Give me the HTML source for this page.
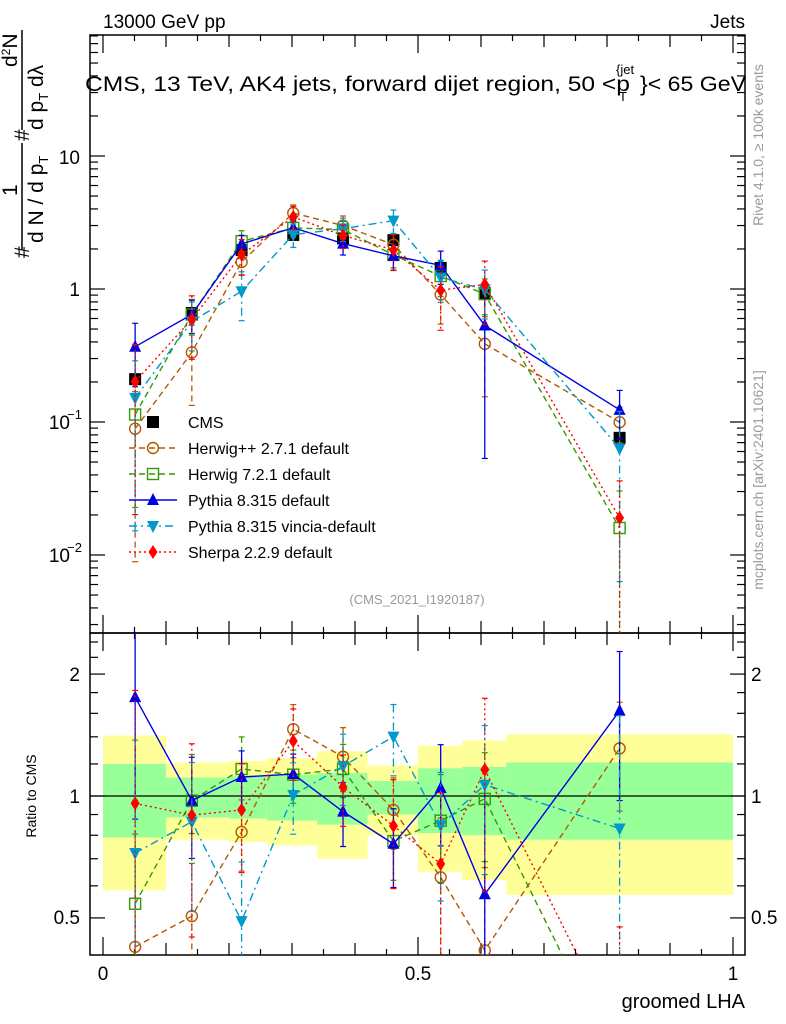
<!DOCTYPE html>
<html><head><meta charset="utf-8"><style>
html,body{margin:0;background:#fff;width:786px;height:1024px;overflow:hidden}
svg{display:block;font-family:"Liberation Sans",sans-serif}
</style></head><body>
<svg id="c" width="786" height="1024" viewBox="0 0 786 1024" style="position:absolute;left:0;top:0"></svg>
<script>
const xs = [0.051,0.141,0.22,0.302,0.381,0.461,0.536,0.606,0.82];
const binEdges = [0,0.1,0.2,0.26,0.34,0.42,0.5,0.57,0.64,1.0];
const cms = [0.21,0.66,1.96,2.55,2.4,2.33,1.44,0.93,0.076];
const yellowHi = [1.41,1.21,1.22,1.24,1.29,1.19,1.33,1.37,1.42];
const greenHi = [1.20,1.11,1.12,1.13,1.14,1.09,1.17,1.18,1.21];
const greenLo = [0.79,0.885,0.88,0.87,0.85,0.90,0.81,0.80,0.78];
const yellowLo = [0.585,0.78,0.77,0.755,0.70,0.80,0.65,0.62,0.57];
const ratioHerwigpp = [0.424,0.505,0.815,1.462,1.25,0.924,0.63,0.416,1.311];
const ratioHerwig7 = [0.542,0.974,1.166,1.129,1.166,0.774,0.869,0.984,0.21];
const ratioPythia = [1.754,0.974,1.114,1.133,0.915,0.762,1.046,0.572,1.624];
const ratioVincia = [0.723,0.864,0.491,1.006,1.184,1.402,0.847,1.066,0.831];
const ratioSherpa = [0.959,0.897,0.924,1.367,1.052,0.844,0.68,1.162,0.25];
const errHerwigpp = [0.9,0.6,0.2,0.15,0.18,0.2,0.4,0.6,0.3];
const errHerwig7 = [0.8,0.3,0.2,0.15,0.15,0.2,0.3,0.3,0.9];
const errPythia = [0.5,0.28,0.16,0.12,0.18,0.22,0.28,0.9,0.4];
const errVincia = [0.9,0.4,0.4,0.2,0.2,0.2,0.35,0.4,0.9];
const errSherpa = [0.9,0.5,0.3,0.2,0.2,0.3,0.5,0.5,0.9];

const NS="http://www.w3.org/2000/svg";
const svg=document.getElementById('c');
function mk(tag,attrs,parent){const e=document.createElementNS(NS,tag);for(const k in attrs)e.setAttribute(k,attrs[k]);(parent||svg).appendChild(e);return e;}
const L=90,R=745,T=35,MB=633,RB=955;
const X=v=>103+630*v;
const Ym=v=>289-133*Math.log10(v);
const Yr=v=>796-405*Math.log10(v);

const defs=mk('defs',{});
const c1=mk('clipPath',{id:'cm'},defs);mk('rect',{x:L,y:T,width:R-L,height:MB-T},c1);
const c2=mk('clipPath',{id:'cr'},defs);mk('rect',{x:L,y:MB,width:R-L,height:RB-MB},c2);

const gBand=mk('g',{'clip-path':'url(#cr)'});

for(let i=0;i<xs.length;i++){
 const x0=X(binEdges[i]),x1=X(binEdges[i+1]);
 const y=mk('rect',{x:x0,y:Yr(yellowHi[i]),width:x1-x0,height:Yr(yellowLo[i])-Yr(yellowHi[i]),fill:'#ffff99'},gBand);
 
 const g=mk('rect',{x:x0,y:Yr(greenHi[i]),width:x1-x0,height:Yr(greenLo[i])-Yr(greenHi[i]),fill:'#99ff99'},gBand);
 
}
mk('line',{x1:L,x2:R,y1:Yr(1),y2:Yr(1),stroke:'#000','stroke-width':1.3});

mk('rect',{x:L,y:T,width:R-L,height:MB-T,fill:'none',stroke:'#000','stroke-width':1.5});
mk('rect',{x:L,y:MB,width:R-L,height:RB-MB,fill:'none',stroke:'#000','stroke-width':1.5});

const tk=mk('g',{stroke:'#000','stroke-width':1.2});
for(let d=-3;d<=1;d++){for(let m=1;m<10;m++){const v=m*Math.pow(10,d);const y=Ym(v);if(y<T||y>MB)continue;const len=m==1?15:8;
 mk('line',{x1:L,x2:L+len,y1:y,y2:y},tk);mk('line',{x1:R,x2:R-len,y1:y,y2:y},tk);}}
[0.5,0.6,0.7,0.8,0.9,1,1.2,1.4,1.6,1.8,2,2.2,2.4].forEach(v=>{const y=Yr(v);const len=(v==0.5||v==1||v==2)?15:8;
 mk('line',{x1:L,x2:L+len,y1:y,y2:y},tk);mk('line',{x1:R,x2:R-len,y1:y,y2:y},tk);});
for(let k=0;k<=20;k++){const v=k*0.05;const x=X(v);const len=(k%10==0)?18:(k%2==0?12:6);
 [MB,RB].forEach(b=>mk('line',{x1:x,x2:x,y1:b,y2:b-len},tk));
 mk('line',{x1:x,x2:x,y1:T,y2:T+len},tk);mk('line',{x1:x,x2:x,y1:MB,y2:MB+len},tk);}

const series=[
 {name:'herwigpp',ratio:ratioHerwigpp,err:errHerwigpp,color:'#b35900',dash:'6,4',marker:'circle'},
 {name:'herwig7',ratio:ratioHerwig7,err:errHerwig7,color:'#339900',dash:'6,4',marker:'square'},
 {name:'pythia',ratio:ratioPythia,err:errPythia,color:'#0000e6',dash:'',marker:'tri-up'},
 {name:'vincia',ratio:ratioVincia,err:errVincia,color:'#0099cc',dash:'8,4,2,4',marker:'tri-down'},
 {name:'sherpa',ratio:ratioSherpa,err:errSherpa,color:'#ff0000',dash:'2,3',marker:'diamond'}
];
function marker(g,type,x,y,col){
 let e;
 if(type=='circle')e=mk('circle',{cx:x,cy:y,r:5.5,fill:'none',stroke:col,'stroke-width':1.4},g);
 else if(type=='square')e=mk('rect',{x:x-5.5,y:y-5.5,width:11,height:11,fill:'none',stroke:col,'stroke-width':1.4},g);
 else if(type=='tri-up')e=mk('polygon',{points:`${x},${y-7} ${x-6},${y+5} ${x+6},${y+5}`,fill:col},g);
 else if(type=='tri-down')e=mk('polygon',{points:`${x},${y+7} ${x-6},${y-5} ${x+6},${y-5}`,fill:col},g);
 else if(type=='diamond')e=mk('polygon',{points:`${x},${y-7} ${x-4.5},${y} ${x},${y+7} ${x+4.5},${y}`,fill:col},g);
 else e=mk('rect',{x:x-6,y:y-6,width:12,height:12,fill:col},g);
 return e;
}
function drawPanel(clip,Yf,valsFn,pre){
 series.forEach(s=>{
  const g=mk('g',{'clip-path':`url(#${clip})`});
  
  
  const vals=valsFn(s);
  const pts=vals.map((v,i)=>X(xs[i])+','+Yf(v)).join(' ');
  const pl=mk('polyline',{points:pts,fill:'none',stroke:s.color,'stroke-width':1.4,'stroke-dasharray':s.dash},g);
  
  vals.forEach((v,i)=>{
   const x=X(xs[i]);
   const hi=Yf(v*(1+s.err[i])),lo=Yf(Math.max(v*(1-s.err[i]),1e-4));
   const eb=mk('line',{x1:x,x2:x,y1:hi,y2:lo,stroke:s.color,'stroke-width':1.3,'stroke-dasharray':s.dash},g);
   
   mk('line',{x1:x-3,x2:x+3,y1:hi,y2:hi,stroke:s.color,'stroke-width':1.2},g);
   mk('line',{x1:x-3,x2:x+3,y1:lo,y2:lo,stroke:s.color,'stroke-width':1.2},g);
   const m=marker(g,s.marker,x,Yf(v),s.color);
   
   
  });
 });
}
const gc=mk('g',{'clip-path':'url(#cm)'});

cms.forEach((v,i)=>{const m=marker(gc,'sq-filled',X(xs[i]),Ym(v),'#000');
 });
drawPanel('cm',Ym,s=>s.ratio.map((r,i)=>r*cms[i]),'main');
drawPanel('cr',Yr,s=>s.ratio,'ratio');

const legend=[['CMS',null],['Herwig++ 2.7.1 default',0],['Herwig 7.2.1 default',1],['Pythia 8.315 default',2],['Pythia 8.315 vincia-default',3],['Sherpa 2.2.9 default',4]];
const lg=mk('g',{});
legend.forEach((e,k)=>{
 const y=422+26*k;
 const ge=mk('g',{},lg);
 if(e[1]===null){marker(ge,'sq-filled',153,y,'#000');}
 else{const s=series[e[1]];
  mk('line',{x1:129,x2:177,y1:y,y2:y,stroke:s.color,'stroke-width':1.4,'stroke-dasharray':s.dash},ge);
  marker(ge,s.marker,153,y,s.color);}
 const t=mk('text',{x:188,y:y+6,'font-size':16,fill:'#000'},ge);t.textContent=e[0];
});
</script>
<svg width="786" height="1024" style="position:absolute;left:0;top:0;font-family:'Liberation Sans',sans-serif">
<text x="103" y="28" font-size="19">13000 GeV pp</text>
<text x="745" y="28" font-size="19" text-anchor="end">Jets</text>
<g>
<text x="85" y="91" font-size="21" textLength="545" lengthAdjust="spacingAndGlyphs">CMS, 13 TeV, AK4 jets, forward dijet region, 50 &lt;p</text>
<text x="619" y="101" font-size="13">T</text>
<text x="616" y="74" font-size="13">{jet</text>
<text x="640" y="91" font-size="21" textLength="106" lengthAdjust="spacingAndGlyphs">}&lt; 65 GeV</text>
</g>
<g font-size="21">
<line x1="22" y1="143" x2="22" y2="250" stroke="#000" stroke-width="1.5"/>
<line x1="22" y1="30" x2="22" y2="130" stroke="#000" stroke-width="1.5"/>
<text transform="translate(29,258) rotate(-90)">#</text>
<text transform="translate(17,196) rotate(-90)">1</text>
<text transform="translate(43,243) rotate(-90)">d N / d p<tspan font-size="13" dy="5">T</tspan></text>
<text transform="translate(29,141) rotate(-90)">#</text>
<text transform="translate(17,67) rotate(-90)">d<tspan font-size="12" dy="-7">2</tspan><tspan dy="7">N</tspan></text>
<text transform="translate(43,130) rotate(-90)">d p<tspan font-size="13" dy="5">T</tspan><tspan dy="-5"> d</tspan>λ</text>
</g>
<g font-size="19" text-anchor="end">
<text x="80" y="164">10</text><text x="80" y="296">1</text>
<text x="70" y="429">10</text><text x="82" y="419" font-size="13">−1</text>
<text x="70" y="562">10</text><text x="82" y="552" font-size="13">−2</text>
<text x="80" y="681">2</text><text x="80" y="803">1</text><text x="80" y="924">0.5</text>
</g>
<g font-size="19">
<text x="751" y="681">2</text><text x="751" y="803">1</text><text x="751" y="924">0.5</text>
</g>
<g font-size="19" text-anchor="middle">
<text x="103" y="980">0</text><text x="418" y="980">0.5</text><text x="733" y="980">1</text>
</g>
<text x="745" y="1008" font-size="20" text-anchor="end">groomed LHA</text>
<text transform="translate(36,796) rotate(-90)" font-size="14" text-anchor="middle">Ratio to CMS</text>
<text x="417" y="604" font-size="13" fill="#999" text-anchor="middle">(CMS_2021_I1920187)</text>
<text transform="translate(763,145) rotate(-90)" font-size="14" fill="#999" text-anchor="middle">Rivet 4.1.0, ≥ 100k events</text>
<text transform="translate(763,480) rotate(-90)" font-size="14" fill="#999" text-anchor="middle">mcplots.cern.ch [arXiv:2401.10621]</text>
</svg>
</body></html>
